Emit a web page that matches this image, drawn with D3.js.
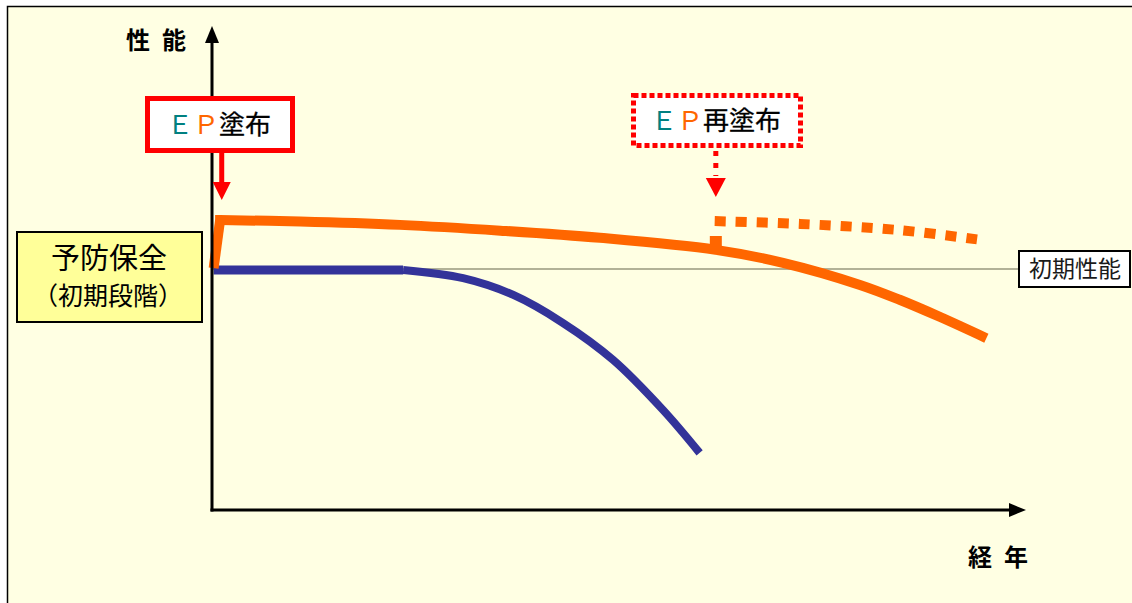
<!DOCTYPE html>
<html>
<head>
<meta charset="utf-8">
<script src="https://cdn.jsdelivr.net/npm/d3@7"></script>
<style>
  body { margin: 0; background: #fff; }
  svg { display: block; }
  text { font-family: "Noto Sans CJK JP", "Noto Sans", sans-serif; }
</style>
</head>
<body>
<div id="chart"></div>
<script>
// performance over years (0 = initial state, initial performance = 50)
const initialPerf = 50;
const epYear = 1.2;
const recoatYear = 62.2;

// EP coated
const orangeYears = [0.2, 1.0, 10.9, 23.2, 35.6, 47.9, 62.2, 70.5, 80.0, 84.9, 89.9, 95.6];
const orangeValues = [50.4, 60.4, 60.1, 59.4, 58.2, 56.7, 54.2, 51.5, 46.9, 43.8, 40.2, 35.8];

// EP recoated
const recoatYears = [61.7, 72.6, 84.9, 94.8];
const recoatValues = [60.2, 59.6, 58.3, 56.3];

// no treatment
const flatYears = [0.2, 23.6];
const flatValues = [50, 50];
const blueYears = [23.6, 31.0, 37.2, 43.3, 49.5, 55.7, 60.2];
const blueValues = [50, 48.3, 44.8, 39.0, 31.3, 20.8, 11.9];

const W = 1132, H = 603;
const svg = d3.select('#chart').append('svg')
  .attr('width', W).attr('height', H);

// panel
svg.append('rect')
  .attr('x', 7.5).attr('y', 6.5)
  .attr('width', W + 10).attr('height', H + 10)
  .attr('fill', '#ffffe3')
  .attr('stroke', '#000').attr('stroke-width', 1.5);

const x = d3.scaleLinear().domain([0, 100]).range([212, 1022]);
const y = d3.scaleLinear().domain([0, 100]).range([510, 30]);

const line = d3.line()
  .x(d => x(d[0]))
  .y(d => y(d[1]))
  .curve(d3.curveCatmullRom.alpha(0.5));
const straight = d3.line()
  .x(d => x(d[0]))
  .y(d => y(d[1]));

const zip = (a, b) => a.map((v, i) => [v, b[i]]);

// initial performance reference line
svg.append('line')
  .attr('x1', x(0)).attr('x2', 1019)
  .attr('y1', y(initialPerf) - 1).attr('y2', y(initialPerf) - 1)
  .attr('stroke', '#66664d').attr('stroke-width', 1.2);

// no treatment curve
svg.append('path')
  .datum(zip(flatYears, flatValues))
  .attr('d', straight)
  .attr('fill', 'none')
  .attr('stroke', '#333399')
  .attr('stroke-width', 9);
svg.append('path')
  .datum(zip(blueYears, blueValues))
  .attr('d', line)
  .attr('fill', 'none')
  .attr('stroke', '#333399')
  .attr('stroke-width', 8);

// EP curve
const orangePts = zip(orangeYears, orangeValues);
svg.append('path')
  .datum(orangePts.slice(0, 2))
  .attr('d', straight)
  .attr('fill', 'none')
  .attr('stroke', '#ff6600')
  .attr('stroke-width', 10);
svg.append('path')
  .datum(orangePts.slice(1))
  .attr('d', d => 'M' + (x(d[0][0]) - 5) + ',' + y(d[0][1]) + line(d).replace('M', 'L'))
  .attr('fill', 'none')
  .attr('stroke', '#ff6600')
  .attr('stroke-width', 10);

// recoat dashed curve
svg.append('path')
  .datum(zip(recoatYears, recoatValues))
  .attr('d', line)
  .attr('fill', 'none')
  .attr('stroke', '#ff6600')
  .attr('stroke-width', 10)
  .attr('stroke-dasharray', '0 3 11 10 11 10 11 10 11 10 11 10 11 10 11 10 11 10 11 10 11 10 11 10 11 10 11 10 11 10');

// connector from EP curve up to recoat curve
svg.append('line')
  .attr('x1', x(recoatYear)).attr('x2', x(recoatYear))
  .attr('y1', 248).attr('y2', 236)
  .attr('stroke', '#ff6600')
  .attr('stroke-width', 12);

// axes
const ax = svg.append('g');
ax.append('line')
  .attr('x1', x(0)).attr('y1', y(0) + 1.5)
  .attr('x2', x(0)).attr('y2', 40)
  .attr('stroke', '#000').attr('stroke-width', 3);
ax.append('path')
  .attr('d', `M${x(0)},26 L${x(0) - 7},43 L${x(0) + 7},43 Z`)
  .attr('fill', '#000');
ax.append('line')
  .attr('x1', x(0) - 1.5).attr('y1', y(0))
  .attr('x2', 1012).attr('y2', y(0))
  .attr('stroke', '#000').attr('stroke-width', 3);
ax.append('path')
  .attr('d', `M1026,${y(0)} L1009,${y(0) - 7} L1009,${y(0) + 7} Z`)
  .attr('fill', '#000');

ax.append('text')
  .attr('x', 186).attr('y', 49)
  .attr('text-anchor', 'end')
  .attr('font-size', 24).attr('font-weight', 'bold')
  .attr('fill', '#000')
  .text('性\u2002能');
ax.append('text')
  .attr('x', 1028).attr('y', 566)
  .attr('text-anchor', 'end')
  .attr('font-size', 24).attr('font-weight', 'bold')
  .attr('fill', '#000')
  .text('経\u2002年');

// EP coating box
svg.append('rect')
  .attr('x', 147.5).attr('y', 98.5)
  .attr('width', 145).attr('height', 52)
  .attr('fill', '#fff')
  .attr('stroke', '#ff0000').attr('stroke-width', 5);
const t1 = svg.append('text')
  .attr('x', 219).attr('y', 134)
  .attr('text-anchor', 'middle')
  .attr('font-size', 26);
t1.append('tspan').attr('fill', '#008080').text('Ｅ');
t1.append('tspan').attr('fill', '#ff6600').text('Ｐ');
t1.append('tspan').attr('fill', '#000')
  .attr('stroke', '#000').attr('stroke-width', 0.3).text('塗布');

// arrow down to EP start
svg.append('line')
  .attr('x1', x(epYear)).attr('x2', x(epYear))
  .attr('y1', 153).attr('y2', 184)
  .attr('stroke', '#ff0000').attr('stroke-width', 5);
svg.append('path')
  .attr('d', `M${x(epYear)},200 L${x(epYear) - 9},182 L${x(epYear) + 9},182 Z`)
  .attr('fill', '#ff0000');

// EP recoat box
svg.append('rect')
  .attr('x', 633.5).attr('y', 95.5)
  .attr('width', 167).attr('height', 50)
  .attr('fill', '#fff')
  .attr('stroke', '#ff0000').attr('stroke-width', 5)
  .attr('stroke-dasharray', '5 3');
const t2 = svg.append('text')
  .attr('x', 716).attr('y', 130)
  .attr('text-anchor', 'middle')
  .attr('font-size', 26);
t2.append('tspan').attr('fill', '#008080').text('Ｅ');
t2.append('tspan').attr('fill', '#ff6600').text('Ｐ');
t2.append('tspan').attr('fill', '#000')
  .attr('stroke', '#000').attr('stroke-width', 0.3).text('再塗布');

// dotted arrow down to recoat
svg.append('line')
  .attr('x1', x(recoatYear)).attr('x2', x(recoatYear))
  .attr('y1', 151).attr('y2', 176)
  .attr('stroke', '#ff0000').attr('stroke-width', 5)
  .attr('stroke-dasharray', '5 7');
svg.append('path')
  .attr('d', `M${x(recoatYear)},197 L${x(recoatYear) - 10},178 L${x(recoatYear) + 10},178 Z`)
  .attr('fill', '#ff0000');

// preventive maintenance label
svg.append('rect')
  .attr('x', 17).attr('y', 232)
  .attr('width', 185).attr('height', 90)
  .attr('fill', '#ffff99')
  .attr('stroke', '#000').attr('stroke-width', 2);
svg.append('text')
  .attr('x', 109).attr('y', 269)
  .attr('text-anchor', 'middle')
  .attr('font-size', 29)
  .attr('fill', '#000')
  .text('予防保全');
svg.append('text')
  .attr('x', 108).attr('y', 305)
  .attr('text-anchor', 'middle')
  .attr('font-size', 25)
  .attr('fill', '#000')
  .text('（初期段階）');

// initial performance label
svg.append('rect')
  .attr('x', 1019).attr('y', 251)
  .attr('width', 111).attr('height', 36)
  .attr('fill', '#fff')
  .attr('stroke', '#000').attr('stroke-width', 2);
svg.append('text')
  .attr('x', 1075).attr('y', 277)
  .attr('text-anchor', 'middle')
  .attr('font-size', 23)
  .attr('fill', '#1a1a1a')
  .text('初期性能');
</script>
</body>
</html>
